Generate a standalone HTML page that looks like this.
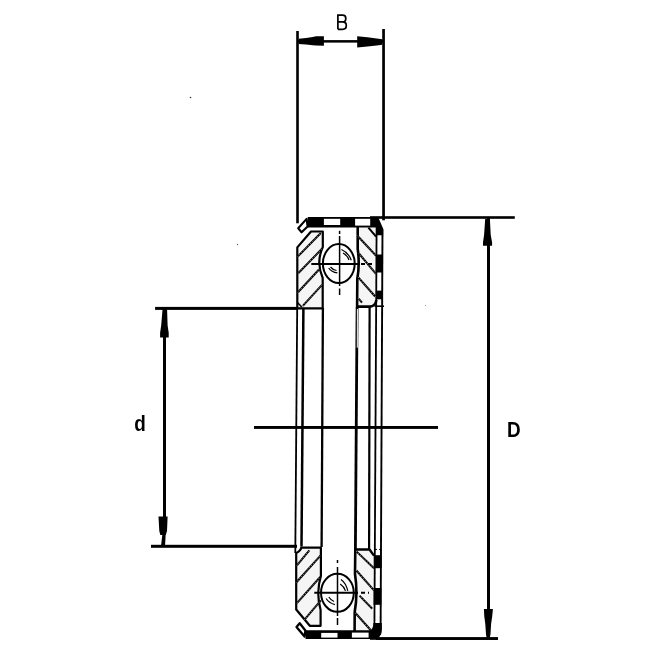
<!DOCTYPE html>
<html><head><meta charset="utf-8">
<style>
html,body{margin:0;padding:0;background:#fff;}
svg{display:block;}
text{font-family:"Liberation Sans",sans-serif;}
</style></head>
<body>
<svg style="will-change:transform" width="656" height="656" viewBox="0 0 656 656">
<rect width="656" height="656" fill="#fff"/>
<defs><g id="hat">
<line x1="297.9" y1="256.4" x2="320.8" y2="233"/>
<line x1="298.2" y1="273.2" x2="322" y2="248.8"/>
<line x1="298" y1="292.3" x2="319" y2="269.5"/>
<line x1="302.8" y1="305.8" x2="322" y2="284.8"/>
<line x1="357.4" y1="235.7" x2="376.1" y2="255.8"/>
<line x1="359" y1="253.5" x2="376" y2="273.8"/>
<line x1="358.6" y1="298.7" x2="362" y2="302.6"/>
<line x1="358.3" y1="277.3" x2="375.2" y2="296.5"/>
<line x1="296.9" y1="565.4" x2="309.3" y2="550.3"/>
<line x1="296.2" y1="582.5" x2="320.9" y2="555.1"/>
<line x1="296.9" y1="603.1" x2="320.2" y2="577"/>
<line x1="304.5" y1="619.6" x2="320.9" y2="600.4"/>
<line x1="356.4" y1="551.4" x2="374" y2="568.2"/>
<line x1="356.4" y1="570.5" x2="374" y2="590.3"/>
<line x1="359.5" y1="595.6" x2="372.3" y2="608.7"/>
<line x1="355.4" y1="613" x2="370.6" y2="630"/>
</g></defs>

<g fill="#000" stroke="none">
<!-- B dimension -->
<rect x="296.2" y="31" width="2.6" height="192.3"/>
<rect x="382.2" y="29" width="2.7" height="191.3"/>
<rect x="298" y="40.1" width="85" height="2.5"/>
<polygon points="298.7,38.7 306.1,37.9 312.7,37.1 316,36.2 323.9,36.2 323.9,45.8 316,45.6 312.7,45.3 306.1,44.5 298.7,43.9"/>
<polygon points="357.2,36.2 367.4,37.3 376.7,38.4 382.3,39.2 382.3,44.7 376.7,45.5 367.4,46.6 357.2,47.4"/>
<!-- D dimension -->
<rect x="370" y="216.2" width="144.8" height="2.6"/>
<rect x="376" y="637.3" width="122" height="2.6"/>
<rect x="487" y="218" width="3" height="420"/>
<polygon points="485.2,219 489.9,219 490.7,234.8 492.1,242.5 492.1,245.8 483,245.8 483,242.5 484.1,234.8"/>
<polygon points="483.9,608.9 492.9,608.9 492.2,616.5 491.1,624 490.5,634.3 489.8,637.5 486.5,637.5 486,634.3 485.3,624 484.3,616.5"/>
<!-- d dimension -->
<rect x="155.1" y="306.9" width="142" height="3"/>
<rect x="151" y="544.8" width="146" height="3"/>
<rect x="163" y="309" width="3" height="221"/>
<polygon points="163,529 166,529 165,546 161,546"/>
<polygon points="162.5,309.8 167.1,309.8 167.6,325.3 168.7,332.7 168.7,337.6 160.1,337.6 160.1,332.7 161.2,325.3"/>
<polygon points="158.5,516.5 167.6,516.5 167,531 165.8,535 160.3,535 159.3,531"/>
<circle cx="190.5" cy="97.5" r="0.8" fill="#333"/>
<circle cx="237.5" cy="244.5" r="0.7" fill="#666"/>
<circle cx="425.5" cy="305.5" r="0.6" fill="#888"/>
<!-- center line -->
<rect x="254" y="426" width="184" height="2.9"/>
</g>
<path d="M337.9,29.3 V15.1 H342.6 Q345.8,15.1 345.8,18.4 Q345.8,21.9 342.6,21.9 H337.9 M342.6,21.9 Q346.3,21.9 346.3,25.5 Q346.3,29.3 342.6,29.3 H337.9" fill="none" stroke="#000" stroke-width="1.7"/>
<text x="0" y="0" transform="translate(134.3 430.9) scale(0.86 1)" font-size="22" font-weight="bold" fill="#000" opacity="0.999">d</text>
<text x="0" y="0" transform="translate(507 436.7) scale(0.88 1)" font-size="21.5" font-weight="bold" fill="#000" opacity="0.999">D</text>

<!-- BEARING -->
<g fill="none" stroke="#000" stroke-linejoin="round">
<g fill="#f5f5f5" stroke="none">
<polygon points="297.3,308.3 297.3,247.4 311,231.5 322.8,231.5 322.8,247 319,262.5 322.7,278 322.6,308.3"/>
<polygon points="357.7,227.5 376.5,227.5 376.3,300 369.8,306.6 357.1,306.6 357.3,279 359,264 357.7,249"/>
<polygon points="301.5,547.7 320.9,547.7 320.9,576 317.5,592.5 320.6,610 320.6,625.8 309.8,625.8 296.2,609.5 296.2,553"/>
<polygon points="355.3,549.5 369.5,549.5 374,555.6 374.4,630 354.6,631 354.7,612 357,593 355,574"/>
</g>
<!-- top bar + corner -->
<path d="M307.8,217.1 H378.1 L383.1,228.6 V235.2 H376.2 V227.5 H307.8 Z" fill="#000" stroke="none"/>
<rect x="323.9" y="218.8" width="16.3" height="6.2" fill="#fff" stroke="none"/>
<rect x="355.1" y="218.8" width="15.1" height="6.8" fill="#fff" stroke="none"/>
<!-- left top tab -->
<polygon points="298.2,228.3 306.6,218.9 307.6,226.5 301.6,232.3" fill="#fff" stroke-width="2.1"/>
<!-- bottom bar + corner -->
<path d="M305.5,630.3 H369.3 Q373.4,629.5 373.4,622.9 H381.8 V631 A8,8 0 0 1 373.8,639 H305.5 Z" fill="#000" stroke="none"/>
<rect x="321.2" y="632.9" width="16.3" height="4.7" fill="#fff" stroke="none"/>
<rect x="351.9" y="632.6" width="16.7" height="5" fill="#fff" stroke="none"/>
<!-- left bottom tab -->
<polygon points="296.5,627 299.7,623.2 305.4,630.5 304.5,636.6" fill="#fff" stroke-width="2.3"/>
<!-- D ext bottom -->
<rect x="370" y="637.3" width="128" height="2.5" fill="#000" stroke="none"/>

<!-- right strip black segments -->
<g fill="#000" stroke="none">
<rect x="376.5" y="254.5" width="6.3" height="18"/>
<rect x="376.3" y="290.6" width="6.3" height="8.7"/>
<rect x="373.8" y="555.2" width="7.7" height="13"/>
<rect x="373.6" y="588" width="7.7" height="16.8"/>
</g>
<line x1="376.6" y1="226" x2="374.4" y2="630" stroke-width="1.8"/>
<line x1="382.5" y1="229" x2="380.6" y2="630" stroke-width="1.9"/>
<line x1="374.5" y1="306.2" x2="384" y2="306.2" stroke-width="1.6"/>
<line x1="375" y1="549.4" x2="381" y2="549.4" stroke-width="1" stroke-dasharray="2,2"/>

<!-- left washer top -->
<path d="M297.3,308.3 V247.4 L311,231.5 H322.8 V247 Q315.8,262.5 322.7,278 V308.3 Z" stroke-width="2.2"/>
<!-- right washer top -->
<path d="M357.7,226.7 V249 Q359.9,264 357.3,279 L357.1,307" stroke-width="2.6"/>
<path d="M356.5,306.6 H369.8 A6.5,6.5 0 0 0 376.3,300.1" stroke-width="2.6"/>
<line x1="368.4" y1="227.6" x2="376.1" y2="236.6" stroke-width="2"/>

<!-- mid verticals -->
<line x1="297.2" y1="308" x2="295.3" y2="553" stroke-width="1.8"/>
<line x1="297.4" y1="302.5" x2="302" y2="307.2" stroke-width="1.6"/>
<line x1="303.4" y1="308" x2="301.5" y2="546.5" stroke-width="2.5"/>
<line x1="322.9" y1="308" x2="321.6" y2="547" stroke-width="2.3"/>
<line x1="357.1" y1="307" x2="355.4" y2="549" stroke-width="2.8"/>
<line x1="357.4" y1="309" x2="357.3" y2="347.7" stroke="#fff" stroke-width="1"/>
<line x1="369.6" y1="307" x2="369.1" y2="549" stroke-width="2.2"/>

<!-- left washer bottom -->
<path d="M301.5,546.5 Q301.3,550.5 296.2,553 V609.5 L309.8,625.8 H320.6 V610 Q315.8,592.5 320.9,576 V547.7 H301.5" stroke-width="2.2"/>
<!-- right washer bottom -->
<path d="M355.4,549.5 H369.5 L374,555.6" stroke-width="2.4"/>
<path d="M355.3,549 L355,574 Q358,593 354.7,612 L354.6,631" stroke-width="2.6"/>

<!-- balls -->
<ellipse cx="338.8" cy="263.6" rx="15.9" ry="19.5" stroke-width="2"/>
<ellipse cx="337.4" cy="592.8" rx="16.4" ry="19" stroke-width="2"/>
<!-- ball highlights -->
<g stroke-width="1.2">
<path d="M341.4,249.5 Q348.5,252.5 351.3,260.2"/>
<path d="M343,253 Q347.5,255.5 349,260"/>
<path d="M328.7,268.1 Q331.5,272 337.4,272.9"/>
<path d="M330.5,267 Q333,270 336.5,270.5"/>
<path d="M341,579.4 Q346,583 347.8,590.9"/>
<path d="M340.2,584 Q344,586.5 345.5,590.9"/>
<path d="M326.1,598.5 Q329,603 334.9,604.6"/>
<path d="M328.8,597 Q331,600.5 334.1,601.5"/>
</g>
<!-- ball center lines -->
<line x1="311.3" y1="264" x2="360" y2="264" stroke-width="2.1"/>
<line x1="361" y1="264" x2="372" y2="264" stroke-width="2" stroke-dasharray="4,3"/>
<line x1="339.6" y1="236" x2="339.6" y2="286" stroke-width="1.5"/>
<line x1="339.6" y1="230.8" x2="339.6" y2="234" stroke-width="1.5"/>
<line x1="339.6" y1="288.5" x2="339.6" y2="295" stroke-width="1.5"/>
<line x1="314.3" y1="592.8" x2="358" y2="592.8" stroke-width="2.1"/>
<line x1="361" y1="592.8" x2="369" y2="592.8" stroke-width="2" stroke-dasharray="4,3"/>
<line x1="337.5" y1="560" x2="337.5" y2="563" stroke-width="1.5"/>
<line x1="337.5" y1="567" x2="337.5" y2="616" stroke-width="1.5"/>
<line x1="337.5" y1="618" x2="337.5" y2="625" stroke-width="1.5"/>

<!-- hatches -->
<use href="#hat" stroke="#000" stroke-width="2"/>
<use href="#hat" stroke="#fff" stroke-width="0.7" stroke-dasharray="0.9,1.6"/>
</g>
</svg>
</body></html>
